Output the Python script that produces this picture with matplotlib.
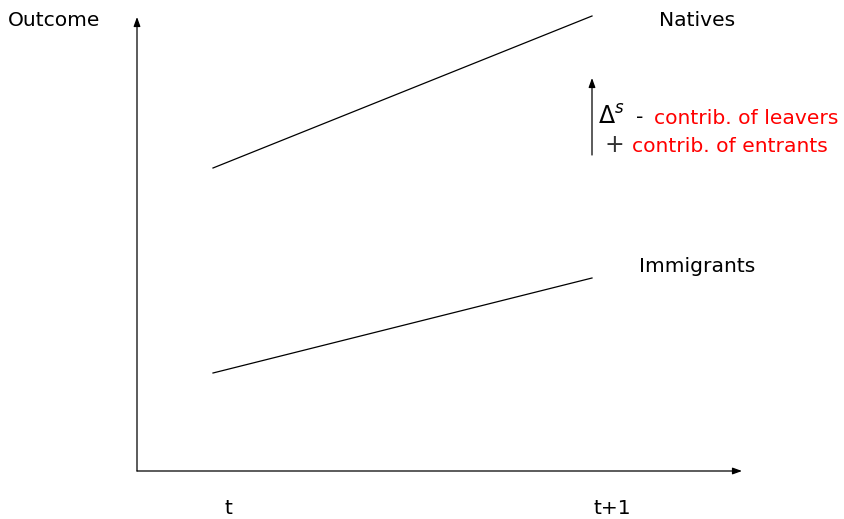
import matplotlib.pyplot as plt

# periods on the x axis
periods = ["t", "t+1"]
period_x = [0.0, 1.0]

# outcome levels (arbitrary units) at t and t+1
natives = [3.03, 4.55]
immigrants = [0.98, 1.93]

# change arrow drawn at t+1
delta_from = 3.16
delta_to = 3.93

plt.rcParams['font.family'] = ['DejaVu Sans']
plt.rcParams['mathtext.fontset'] = 'dejavusans'


def px(x):
    # pixel column -> data x
    return (x - 213) / 379.0


def py(y):
    # pixel row -> data y
    return (471 - y) / 100.0


fig = plt.figure(figsize=(8.44, 5.19), dpi=100)
ax = fig.add_axes([0, 0, 1, 1])
ax.set_xlim(px(0), px(844))
ax.set_ylim(py(519), py(0))
ax.axis("off")

# axes arrows
arrow = dict(arrowstyle="-|>,head_length=0.55,head_width=0.2", color="black", lw=0.9, shrinkA=0, shrinkB=0)
ax.annotate("", xy=(px(742), 0), xytext=(px(137), 0), arrowprops=arrow)
ax.annotate("", xy=(px(137), py(17)), xytext=(px(137), 0), arrowprops=arrow)

# the two groups
ax.plot(period_x, natives, color="black", lw=0.9)
ax.plot(period_x, immigrants, color="black", lw=0.9)

# change arrow
ax.annotate("", xy=(period_x[1], delta_to), xytext=(period_x[1], delta_from), arrowprops=arrow)

fs = 14.6
ax.text(px(8), py(20), "Outcome", fontsize=fs, ha="left", va="center")
ax.text(px(697), py(20), "Natives", fontsize=fs, ha="center", va="center")
ax.text(px(697), py(267), "Immigrants", fontsize=fs, ha="center", va="center")
for lab, x in zip(periods, [px(228), px(612)]):
    ax.text(x, py(509), lab, fontsize=fs, ha="center", va="center")

ax.text(px(598), py(117), r"$\Delta^s$", fontsize=17, ha="left", va="center")
ax.text(px(636), py(118), "-", fontsize=fs, ha="left", va="center")
ax.text(px(654), py(118), "contrib. of leavers", fontsize=fs, ha="left", va="center", color="red")
ax.text(px(604), py(145), r"$+$", fontsize=17, ha="left", va="center", color="#333333")
ax.text(px(632), py(146), "contrib. of entrants", fontsize=fs, ha="left", va="center", color="red")

fig.savefig("out.png", dpi=100)
